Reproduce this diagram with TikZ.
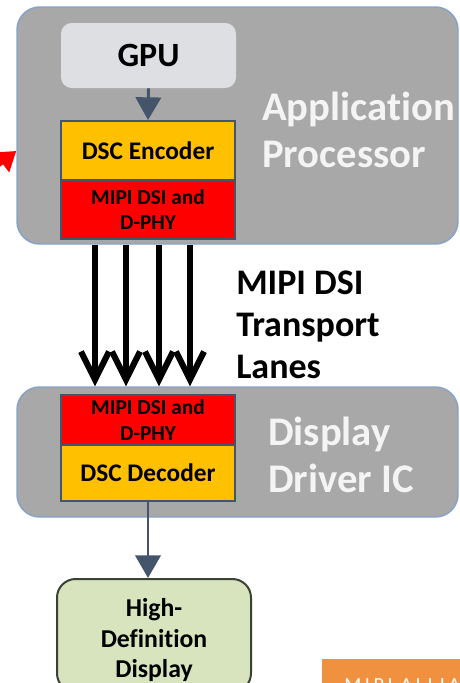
\documentclass[tikz,border=0pt]{standalone}
\usepackage{fontspec}
\setmainfont{Carlito}[Ligatures=NoCommon]
\usetikzlibrary{arrows.meta}
\definecolor{apgray}{HTML}{A8A8A8}
\definecolor{apborder}{HTML}{85A3C8}
\definecolor{gpufill}{HTML}{DEDFE2}
\definecolor{dscorange}{HTML}{FFC000}
\definecolor{phyred}{HTML}{FF0000}
\definecolor{slate}{HTML}{44546A}
\definecolor{hdgreen}{HTML}{D7E4BD}
\definecolor{hdborder}{HTML}{3A4236}
\definecolor{logoorange}{HTML}{F0913F}
\definecolor{softwhite}{HTML}{F4F4F4}
\tikzset{
  chip/.style={inner sep=0pt, fill=apgray, draw=apborder, line width=1.1pt, rounded corners=17pt, minimum width=330.75pt},
  gpubox/.style={inner sep=0pt, fill=gpufill, rounded corners=8pt, minimum width=131.25pt, minimum height=48.75pt, font=\bfseries\fontsize{25.5}{28}\selectfont},
  encbox/.style={inner sep=0pt, fill=dscorange, draw=slate, line width=1.5pt, minimum width=130.5pt, font=\bfseries\fontsize{19}{21}\selectfont},
  phybox/.style={inner sep=0pt, fill=phyred, draw=slate, line width=1.5pt, minimum width=130.5pt, align=center, font=\bfseries\fontsize{16}{19}\selectfont},
  bigwhite/.style={text=softwhite, align=left, anchor=west, inner sep=0pt, font=\bfseries\fontsize{30.5}{35}\selectfont},
  flow/.style={draw=slate, line width=2.2pt, -{Triangle[length=17pt,width=19pt]}},
  lane/.style={draw=black, line width=4.5pt, -{Straight Barb[length=21pt,width=21pt]}},
  lanetext/.style={align=left, anchor=west, inner sep=0pt, font=\bfseries\fontsize{27}{31.5}\selectfont},
  hdbox/.style={inner sep=0pt, fill=hdgreen, draw=hdborder, line width=1.5pt, rounded corners=14pt, minimum width=145.5pt, minimum height=84.75pt},
  hdtext/.style={align=center, inner sep=0pt, font=\bfseries\fontsize{19.3}{23}\selectfont}
}
\begin{document}
\begin{tikzpicture}[x=0.75pt,y=-0.75pt]
\useasboundingbox (0,0) rectangle (460,683);
\clip (0,0) rectangle (460,683);
\fill[white] (0,0) rectangle (460,683);
% Application processor
\node[chip, minimum height=177.75pt] (ap) at (237.5,125.5) {};
\node[gpubox] (gpu) at (148.5,55.5) {GPU};
\node[encbox, minimum height=44.25pt] (enc) at (148,150.5) {DSC Encoder};
\node[phybox, minimum height=44.25pt] (phy1) at (148,209.5) {MIPI DSI and\\D-PHY};
\node[bigwhite] (aptext) at (262,130) {Application\\Processor};
\draw[flow] (gpu.south) -- (enc.north);
% Display driver IC
\node[chip, minimum height=97.5pt] (ddic) at (237.5,452) {};
\node[phybox, minimum height=37.5pt] (phy2) at (148,420) {MIPI DSI and\\D-PHY};
\node[encbox, minimum height=42pt] (dec) at (148,473) {DSC Decoder};
\node[bigwhite] (ddictext) at (268,455) {Display\\Driver IC};
% lanes
\draw[lane] (ap.south -| 95,0) -- (ddic.north -| 95,0);
\draw[lane] (ap.south -| 126,0) -- (ddic.north -| 126,0);
\draw[lane] (ap.south -| 159,0) -- (ddic.north -| 159,0);
\draw[lane] (ap.south -| 190,0) -- (ddic.north -| 190,0);
\node[lanetext] (lanes) at (236,325) {MIPI DSI\\Transport\\Lanes};
% display
\node[hdbox] (hd) at (154,635.5) {};
\node[hdtext] (hdlabel) at (154,640) {High-\\Definition\\Display};
\draw[flow] (dec.south) -- (dec.south |- hd.north);
% red arrow fragment
\coordinate (redtail) at (-16,176);
\draw[phyred, line width=3.6pt, -{Triangle[length=14pt,width=18pt]}] (redtail) -- (ap.west |- 0,151);
% logo fragment
\node[fill=logoorange, inner sep=0pt, minimum width=114.75pt, minimum height=30.75pt] (logo) at (398.5,679.5) {};
\node[anchor=base west, inner sep=0pt, text=white, font=\fontsize{15}{15}\selectfont\addfontfeature{LetterSpace=18}] (logotext) at (344,691) {MIPI ALLIANCE};
\end{tikzpicture}
\end{document}
